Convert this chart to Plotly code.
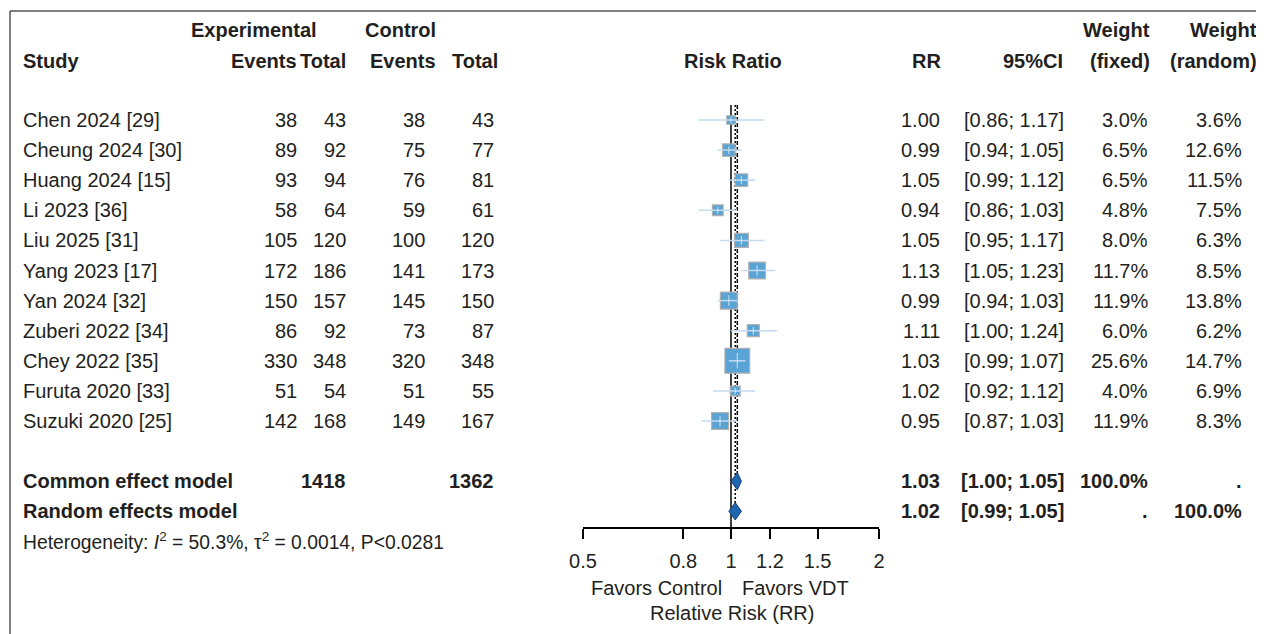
import math
import plotly.graph_objects as go

# ---------------- data ----------------
studies = ["Chen 2024 [29]", "Cheung 2024 [30]", "Huang 2024 [15]", "Li 2023 [36]",
           "Liu 2025 [31]", "Yang 2023 [17]", "Yan 2024 [32]", "Zuberi 2022 [34]",
           "Chey 2022 [35]", "Furuta 2020 [33]", "Suzuki 2020 [25]"]
exp_events = [38, 89, 93, 58, 105, 172, 150, 86, 330, 51, 142]
exp_total = [43, 92, 94, 64, 120, 186, 157, 92, 348, 54, 168]
ctrl_events = [38, 75, 76, 59, 100, 141, 145, 73, 320, 51, 149]
ctrl_total = [43, 77, 81, 61, 120, 173, 150, 87, 348, 55, 167]
rr = [1.00, 0.99, 1.05, 0.94, 1.05, 1.13, 0.99, 1.11, 1.03, 1.02, 0.95]
ci_low = [0.86, 0.94, 0.99, 0.86, 0.95, 1.05, 0.94, 1.00, 0.99, 0.92, 0.87]
ci_high = [1.17, 1.05, 1.12, 1.03, 1.17, 1.23, 1.03, 1.24, 1.07, 1.12, 1.03]
w_fixed = [3.0, 6.5, 6.5, 4.8, 8.0, 11.7, 11.9, 6.0, 25.6, 4.0, 11.9]
w_random = [3.6, 12.6, 11.5, 7.5, 6.3, 8.5, 13.8, 6.2, 14.7, 6.9, 8.3]

common_rr, common_lo, common_hi = 1.03, 1.00, 1.05
random_rr, random_lo, random_hi = 1.02, 0.99, 1.05
exp_total_sum = 1418
ctrl_total_sum = 1362
total_weight = 100.0

x_ticks = [0.5, 0.8, 1, 1.2, 1.5, 2]
x_tick_labels = ["0.5", "0.8", "1", "1.2", "1.5", "2"]

heterogeneity_text = ("Heterogeneity: <i>I</i><sup>2</sup> = 50.3%, "
                      "\u03c4<sup>2</sup> = 0.0014, P&lt;0.0281")

# ---------------- layout constants ----------------
PAGE_W, PAGE_H = 1264, 634
OFF = 8                      # default body margin of the html page
W, H = PAGE_W - OFF, PAGE_H - OFF
ROW0_PX, ROW_STEP = 120.0, 30.1   # page pixel of first study row, row spacing


def row_of(page_y):
    return (page_y - ROW0_PX) / ROW_STEP


Y_TOP = row_of(OFF)
Y_BOT = row_of(PAGE_H)


def paper_y(row):
    return (Y_BOT - row) / (Y_BOT - Y_TOP)


def px(page_x):
    return (page_x - OFF) / W


def py(page_y):
    return 1 - (page_y - OFF) / H


n = len(studies)
ROW_COMMON = n + 1
ROW_RANDOM = n + 2
ROW_HET = n + 3
AXIS_ROW = row_of(528)
ROW_HDR1 = row_of(30)
ROW_HDR2 = row_of(61)
ROW_FAVORS = row_of(588)
ROW_XTITLE = row_of(613)
LINE_TOP = -0.5

FONT = "Liberation Sans, Arial, Helvetica, sans-serif"
TXT = "#231f20"
FS = 20
FS_AX = 20
FS_HET = 19.3

BOX_FILL = "#5aa3d5"
BOX_LINE = "#b0b0b0"
CI_COLOR = "#c3daef"
DIA_FILL = "#1f66b0"
DIA_LINE = "#1b3f72"

rows = list(range(n))

fig = go.Figure()

# reference lines
fig.add_trace(go.Scatter(x=[1, 1], y=[LINE_TOP, AXIS_ROW], mode="lines",
                         line=dict(color="black", width=1.5), hoverinfo="skip"))
fig.add_trace(go.Scatter(x=[common_rr, common_rr], y=[LINE_TOP, ROW_COMMON], mode="lines",
                         line=dict(color="black", width=1.5, dash="4px,2px"), hoverinfo="skip"))
fig.add_trace(go.Scatter(x=[random_rr, random_rr], y=[LINE_TOP, ROW_RANDOM], mode="lines",
                         line=dict(color="black", width=1.5, dash="2px,2px"), hoverinfo="skip"))

# boxes
box_sizes = [4.9 * math.sqrt(w) for w in w_fixed]
fig.add_trace(go.Scatter(x=rr, y=rows, mode="markers",
                         marker=dict(symbol="square", size=box_sizes, color=BOX_FILL, opacity=1,
                                     line=dict(color=BOX_LINE, width=1.2)),
                         hoverinfo="skip"))

# CI lines
cx, cy = [], []
for lo, hi, r in zip(ci_low, ci_high, rows):
    cx += [lo, hi, None]
    cy += [r, r, None]
fig.add_trace(go.Scatter(x=cx, y=cy, mode="lines",
                         line=dict(color=CI_COLOR, width=1.5), hoverinfo="skip"))

# estimate ticks
fig.add_trace(go.Scatter(x=rr, y=rows, mode="markers",
                         marker=dict(symbol="line-ns", size=[s * 0.45 for s in box_sizes],
                                     line=dict(color="#e6f0f8", width=1.2)),
                         hoverinfo="skip"))

# diamonds
HALF_H = 0.29
for lo, est, hi, r in [(common_lo, common_rr, common_hi, ROW_COMMON),
                       (random_lo, random_rr, random_hi, ROW_RANDOM)]:
    fig.add_trace(go.Scatter(x=[lo, est, hi, est, lo], y=[r, r - HALF_H, r, r + HALF_H, r],
                             mode="lines", fill="toself", fillcolor=DIA_FILL,
                             line=dict(color=DIA_LINE, width=1), hoverinfo="skip"))

annotations = []


def add_text(x_page, row, text, anchor="right", bold=False, size=FS):
    if bold:
        text = "<b>" + text + "</b>"
    annotations.append(dict(x=px(x_page), y=row, xref="paper", yref="y", text=text,
                            showarrow=False, xanchor=anchor, yanchor="middle",
                            font=dict(family=FONT, size=size, color=TXT),
                            borderpad=0))


# column positions (page pixels)
C_STUDY = 22
C_EE, C_ET, C_CE, C_CT = 298, 347, 426, 495
H_EE, H_ET, H_CE, H_CT = 298, 347, 437, 499
C_RR, C_CI, C_WF, C_WR = 941, 1065, 1149, 1243
H_RR, H_CI, H_WF, H_WR = 942, 1064, 1151, 1258

# headers
add_text(318, ROW_HDR1, "Experimental", bold=True)
add_text(437, ROW_HDR1, "Control", bold=True)
add_text(H_WF, ROW_HDR1, "Weight", bold=True)
add_text(H_WR, ROW_HDR1, "Weight", bold=True)
add_text(C_STUDY, ROW_HDR2, "Study", anchor="left", bold=True)
add_text(H_EE, ROW_HDR2, "Events", bold=True)
add_text(H_ET, ROW_HDR2, "Total", bold=True)
add_text(H_CE, ROW_HDR2, "Events", bold=True)
add_text(H_CT, ROW_HDR2, "Total", bold=True)
add_text(733, ROW_HDR2, "Risk Ratio", anchor="center", bold=True)
add_text(H_RR, ROW_HDR2, "RR", bold=True)
add_text(H_CI, ROW_HDR2, "95%CI", bold=True)
add_text(H_WF, ROW_HDR2, "(fixed)", bold=True)
add_text(H_WR, ROW_HDR2, "(random)", bold=True)

# study rows
for i in range(n):
    add_text(C_STUDY, i, studies[i], anchor="left")
    add_text(C_EE, i, str(exp_events[i]))
    add_text(C_ET, i, str(exp_total[i]))
    add_text(C_CE, i, str(ctrl_events[i]))
    add_text(C_CT, i, str(ctrl_total[i]))
    add_text(C_RR, i, f"{rr[i]:.2f}")
    add_text(C_CI, i, f"[{ci_low[i]:.2f}; {ci_high[i]:.2f}]")
    add_text(C_WF, i, f"{w_fixed[i]:.1f}%")
    add_text(C_WR, i, f"{w_random[i]:.1f}%")

# summary rows
add_text(C_STUDY, ROW_COMMON, "Common effect model", anchor="left", bold=True)
add_text(C_ET, ROW_COMMON, str(exp_total_sum), bold=True)
add_text(C_CT, ROW_COMMON, str(ctrl_total_sum), bold=True)
add_text(C_RR, ROW_COMMON, f"{common_rr:.2f}", bold=True)
add_text(C_CI, ROW_COMMON, f"[{common_lo:.2f}; {common_hi:.2f}]", bold=True)
add_text(C_WF, ROW_COMMON, f"{total_weight:.1f}%", bold=True)
add_text(C_WR, ROW_COMMON, ".", bold=True)

add_text(C_STUDY, ROW_RANDOM, "Random effects model", anchor="left", bold=True)
add_text(C_RR, ROW_RANDOM, f"{random_rr:.2f}", bold=True)
add_text(C_CI, ROW_RANDOM, f"[{random_lo:.2f}; {random_hi:.2f}]", bold=True)
add_text(C_WF, ROW_RANDOM, ".", bold=True)
add_text(C_WR, ROW_RANDOM, f"{total_weight:.1f}%", bold=True)

add_text(C_STUDY, ROW_HET, heterogeneity_text, anchor="left", size=FS_HET)

# axis labels
add_text(723, ROW_FAVORS, "Favors Control", anchor="right", size=FS_AX)
add_text(741, ROW_FAVORS, "Favors VDT", anchor="left", size=FS_AX)
add_text(732, ROW_XTITLE, "Relative Risk (RR)", anchor="center", size=FS_AX)

shapes = [
    dict(type="line", xref="paper", yref="paper", x0=px(10), x1=1, y0=py(11), y1=py(11),
         line=dict(color="#555555", width=1.5)),
    dict(type="line", xref="paper", yref="paper", x0=px(10), x1=px(10), y0=0, y1=py(11),
         line=dict(color="#555555", width=1.5)),
]

fig.update_layout(
    template="none",
    width=W, height=H,
    margin=dict(l=0, r=0, t=0, b=0, pad=0, autoexpand=False),
    paper_bgcolor="white", plot_bgcolor="rgba(0,0,0,0)",
    showlegend=False,
    annotations=annotations,
    shapes=shapes,
    xaxis=dict(type="log", domain=[px(583), px(879)],
               range=[math.log10(0.5), math.log10(2)],
               anchor="free", position=paper_y(AXIS_ROW),
               showline=True, linecolor="black", linewidth=1.5,
               ticks="outside", ticklen=10, tickwidth=1.5, tickcolor="black",
               tickvals=x_ticks, ticktext=x_tick_labels,
               tickfont=dict(family=FONT, size=FS_AX, color=TXT),
               ticklabelstandoff=5, automargin=False,
               showgrid=False, zeroline=False, fixedrange=True),
    yaxis=dict(domain=[0, 1], range=[Y_BOT, Y_TOP], visible=False, fixedrange=True,
               automargin=False),
    font=dict(family=FONT, size=FS, color=TXT),
)

fig.write_html("out.html")
